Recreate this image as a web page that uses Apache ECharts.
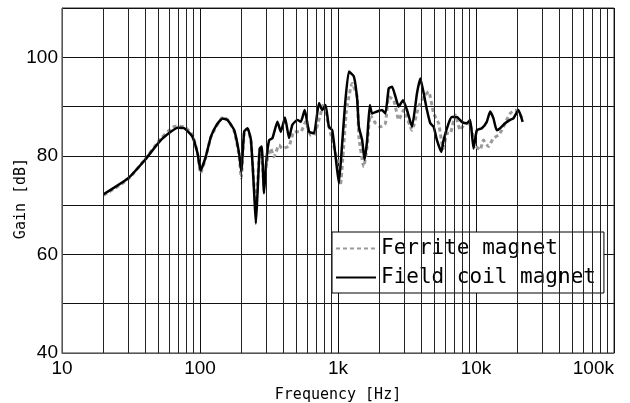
<!DOCTYPE html>
<html>
<head>
<meta charset="utf-8">
<script src="https://cdn.jsdelivr.net/npm/echarts@6/dist/echarts.min.js"></script>
<style>
html, body { margin: 0; padding: 0; background: #fff; }
#gainChart { width: 630px; height: 403px; }
</style>
</head>
<body>
<div id="gainChart"></div>
<script>
// 周波数 [Hz] とゲイン [dB]
var fieldFreq = [20, 30, 40, 52, 69, 77, 88, 96, 101, 110, 120, 132, 146, 158, 177, 192, 199,
    209, 221, 234, 247, 254, 261, 271, 280, 291, 303, 317, 335, 364, 385, 413, 442, 467, 507,
    537, 574, 617, 670, 728, 769, 813, 859, 908, 961, 1015, 1072, 1122, 1199, 1303, 1377,
    1416, 1496, 1557, 1626, 1700, 1767, 1920, 2085, 2206, 2332, 2465, 2609, 2755, 2960, 3162,
    3437, 3736, 3950, 4177, 4412, 4667, 4932, 5210, 5606, 5823, 6329, 6683, 7263, 7890, 8582,
    9080, 9594, 10140, 11020, 11970, 12660, 13380, 14130, 14960, 16250, 17670, 18670, 20290, 21790];
var fieldGain = [72.2, 75.4, 79.2, 83.2, 85.7, 85.6, 83.9, 80.5, 77.0, 79.8, 83.9, 86.3, 87.6, 87.3, 85.2, 80.5, 76.8,
    84.9, 85.6, 83.2, 72.4, 66.3, 72.4, 81.5, 81.9, 72.4, 79.2, 83.2, 83.6, 86.9, 84.9, 87.8, 83.6, 86.3, 87.3,
    86.9, 89.3, 84.9, 84.6, 90.7, 89.3, 90.3, 85.9, 85.2, 79.8, 74.4, 82.5, 90.0, 97.1, 96.1, 91.5,
    85.9, 83.2, 79.2, 83.2, 90.3, 88.6, 89.0, 89.3, 88.6, 93.7, 94.0, 92.0, 90.0, 91.3, 89.3,
    85.9, 92.7, 95.7, 92.7, 89.3, 86.6, 85.9, 83.2, 80.8, 83.2, 86.6, 87.9, 87.9, 86.9, 86.6,
    87.3, 81.5, 85.2, 85.6, 86.9, 89.0, 87.6, 85.2, 85.6, 86.6, 87.3, 87.6, 89.3, 86.9];

var ferriteFreq = [20, 30, 40, 52, 66, 77, 88, 96, 101, 110, 120, 146, 158, 177, 192, 199,
    209, 221, 234, 247, 254, 261, 271, 280, 291, 303, 326, 344, 374, 395, 442, 480, 537, 583,
    634, 670, 728, 791, 837, 908, 986, 1040, 1100, 1150, 1266, 1377, 1416, 1538, 1626, 1715,
    1870, 2033, 2206, 2332, 2535, 2755, 2993, 3437, 3842, 4177, 4538, 4932, 5358, 5664, 5823,
    6150, 6511, 7080, 7690, 8350, 9080, 9860, 10720, 11320, 12300, 13380, 14540, 15380, 16690,
    17670, 19190, 20950, 21790];
var ferriteGain = [72.0, 75.2, 79.3, 83.5, 86.0, 85.9, 84.3, 80.5, 76.5, 79.6, 83.8, 87.8, 87.4, 85.0, 80.0, 75.5,
    84.5, 85.5, 83.0, 73.5, 70.0, 74.0, 81.3, 80.5, 74.0, 78.5, 81.5, 79.8, 82.2, 81.5, 82.0, 84.9, 84.9, 86.9,
    84.2, 84.2, 87.3, 90.7, 87.3, 83.2, 79.2, 74.0, 82.0, 89.0, 94.7, 92.0, 83.9, 77.8, 81.9, 88.3,
    86.6, 85.9, 86.6, 92.0, 91.3, 87.3, 89.3, 85.2, 90.0, 92.0, 93.0, 88.6, 86.6, 82.5, 81.5,
    84.6, 84.6, 88.3, 85.2, 86.6, 86.3, 82.2, 81.2, 83.2, 81.9, 83.6, 84.2, 85.2, 87.3,
    88.6, 89.3, 88.3, 87.3];

// 補助目盛り（2～9 倍）
var minorFreqs = [20, 30, 40, 50, 60, 70, 80, 90, 200, 300, 400, 500, 600, 700, 800, 900,
    2000, 3000, 4000, 5000, 6000, 7000, 8000, 9000, 20000, 30000, 40000, 50000, 60000, 70000, 80000, 90000];
var yLabels = [40, 60, 80, 100];

function pairs(xs, ys) {
    var out = [];
    for (var i = 0; i < xs.length; i++) {
        out.push([xs[i], ys[i]]);
    }
    return out;
}

var gridLines = [];
for (var i = 0; i < minorFreqs.length; i++) {
    gridLines.push({ xAxis: minorFreqs[i] });
}

var tickFont = "'Liberation Sans', Arial, sans-serif";
var monoFont = "'DejaVu Sans Mono', 'Liberation Mono', monospace";

var myChart = echarts.init(document.getElementById("gainChart"), null, { renderer: 'canvas' });
var option = {
    animation: false,
    backgroundColor: '#fff',
    grid: {
        left: 62, right: 16, top: 8, bottom: 50,
        containLabel: false, outerBoundsMode: 'none',
        show: true, borderColor: '#333', borderWidth: 1
    },
    legend: {
        orient: 'vertical',
        left: 332, top: 232,
        padding: [6, 8, 5, 3],
        itemWidth: 40, itemHeight: 14, itemGap: 8,
        backgroundColor: '#fff',
        borderColor: '#000', borderWidth: 1,
        itemStyle: { opacity: 0 },
        textStyle: { fontFamily: monoFont, fontSize: 21, color: '#000' },
        data: ['Ferrite magnet', 'Field coil magnet']
    },
    xAxis: {
        type: 'log', logBase: 10, min: 10, max: 100000,
        name: 'Frequency [Hz]', nameLocation: 'middle', nameGap: 35,
        nameTextStyle: { fontFamily: monoFont, fontSize: 15, color: '#000' },
        axisLine: { lineStyle: { color: '#555' } },
        axisTick: { show: false },
        axisLabel: {
            margin: 6, fontFamily: tickFont, fontSize: 19, color: '#000',
            alignMaxLabel: 'right',
            formatter: function (v) { return v >= 1000 ? (v / 1000) + 'k' : v; }
        },
        splitLine: { show: true, lineStyle: { color: '#111', width: 1 } }
    },
    yAxis: {
        type: 'value', min: 40, max: 110, interval: 10,
        name: 'Gain [dB]', nameLocation: 'middle', nameGap: 33, nameMoveOverlap: false,
        nameTextStyle: { fontFamily: monoFont, fontSize: 15, color: '#000', padding: [0, 36, 0, 0] },
        axisLine: { show: true, lineStyle: { color: '#555' } },
        axisTick: { show: false },
        axisLabel: {
            margin: 4, fontFamily: tickFont, fontSize: 19, color: '#000',
            formatter: function (v) { return yLabels.indexOf(v) >= 0 ? v : ''; }
        },
        splitLine: { show: true, lineStyle: { color: '#111', width: 1 } }
    },
    series: [
        {
            // 補助グリッド線
            name: 'minor', type: 'line', data: [], z: 1, silent: true,
            markLine: {
                silent: true, symbol: ['none', 'none'], animation: false,
                label: { show: false },
                lineStyle: { type: 'solid', color: '#222', width: 1 },
                data: gridLines
            }
        },
        {
            name: 'Ferrite magnet', type: 'line', z: 2,
            data: pairs(ferriteFreq, ferriteGain),
            showSymbol: false, symbol: 'none', smooth: 0.15,
            itemStyle: { color: '#9a9a9a' },
            lineStyle: { color: '#9a9a9a', width: 3, type: [4, 3] }
        },
        {
            name: 'Field coil magnet', type: 'line', z: 3,
            data: pairs(fieldFreq, fieldGain),
            showSymbol: false, symbol: 'none', smooth: 0.15,
            itemStyle: { color: '#000' },
            lineStyle: { color: '#000', width: 2.5 }
        }
    ]
};
myChart.setOption(option);
</script>
</body>
</html>
